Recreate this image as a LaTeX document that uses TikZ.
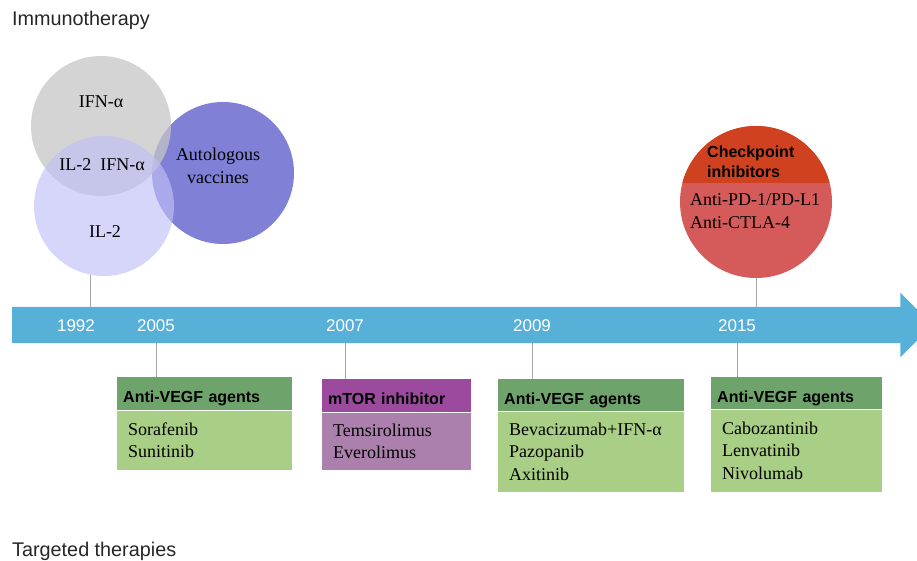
\documentclass[tikz,border=0pt]{standalone}
\usepackage{fontspec}
\setmainfont{Liberation Serif}
\setsansfont{Liberation Sans}
\usetikzlibrary{positioning}
\definecolor{barblue}{HTML}{56B0D8}
\definecolor{ifngray}{RGB}{197,197,197}
\definecolor{illav}{RGB}{192,192,247}
\definecolor{vacpurple}{HTML}{7F80D6}
\definecolor{ckptdark}{HTML}{D0421F}
\definecolor{ckptlight}{HTML}{D55B5B}
\definecolor{vegfdark}{HTML}{6FA36C}
\definecolor{vegflight}{HTML}{A8CF85}
\definecolor{mtordark}{HTML}{9C4A9E}
\definecolor{mtorlight}{HTML}{AC80AC}
\definecolor{tickgray}{HTML}{A6A6A6}
\definecolor{titlegray}{HTML}{262626}

\begin{document}
\begin{tikzpicture}[
  x=1pt, y=-1pt,
  bubble/.style={circle, inner sep=0pt, minimum size=#1},
  txt/.style={font=\fontsize{18}{23}\selectfont, align=center, inner sep=0pt},
  year/.style={font=\sffamily\fontsize{17}{20}\selectfont, text=white, inner sep=0pt},
  side/.style={font=\sffamily\fontsize{19.8}{22}\selectfont, text=titlegray,
               anchor=west, inner sep=0pt},
  hdr/.style={font=\sffamily\bfseries\fontsize{16}{20}\selectfont, align=left,
              inner xsep=6pt, inner ysep=0pt, text height=18pt, text depth=0pt,
              anchor=north west},
  body/.style={font=\fontsize{18}{22.5}\selectfont, align=left,
               inner xsep=11pt, inner ysep=0pt, below=0pt of #1},
  tick/.style={draw=tickgray, line width=1pt}
]
\useasboundingbox (0,0) rectangle (917,561);

\node[side] (immuno) at (12,20.5) {Immunotherapy};
\node[side] (target) at (12,551.5) {Targeted therapies};

% timeline
\node[minimum width=888pt, minimum height=36pt, inner sep=0pt, anchor=west] (bar) at (12,325) {};
\fill[barblue] (bar.north west) -- (bar.north east) -- ([yshift=14pt]bar.north east)
  -- ([xshift=32pt]bar.east) -- ([yshift=-14pt]bar.south east) -- (bar.south east)
  -- (bar.south west) -- cycle;
\node[year] (y1992) at (76,326) {1992};
\node[year] (y2005) at (156,326) {2005};
\node[year] (y2007) at (345,326) {2007};
\node[year] (y2009) at (532,326) {2009};
\node[year] (y2015) at (737,326) {2015};

% immunotherapy bubbles
\node[bubble=142pt, fill=vacpurple] (vac) at (223,173) {};
\node[bubble=140pt, fill=ifngray, fill opacity=0.75] (ifn) at (101,126) {};
\node[bubble=140pt, fill=illav, fill opacity=0.65] (il2) at (104,206) {};
\node[txt] (ifntxt) at (101,102) {IFN-α};
\node[txt] (bothtxt) at (102,165) {IL-2\enspace IFN-α};
\node[txt] (il2txt) at (105,232) {IL-2};
\node[txt] (vactxt) at (218,166) {Autologous\\vaccines};

\node[bubble=152pt, fill=ckptlight,
  path picture={\fill[ckptdark] (path picture bounding box.north west)
    rectangle ([yshift=19pt]path picture bounding box.east);}] (ckpt) at (756,202) {};
\node[font=\sffamily\bfseries\fontsize{16}{20}\selectfont, align=left, anchor=west,
  inner sep=0pt] (ckpttitle) at (707,162) {Checkpoint\\inhibitors};
\node[txt, anchor=west, align=left] (ckpttxt) at (690,211.5) {Anti-PD-1/PD-L1\\Anti-CTLA-4};

\draw[tick] (il2.259) -- (il2.259 |- bar.north);
\draw[tick] (ckpt.south) -- (ckpt.south |- bar.north);

% targeted therapies
\node[hdr, fill=vegfdark, text width=163pt, minimum height=33pt] (vegfA) at (117,377) {Anti-VEGF agents};
\node[body=vegfA, fill=vegflight, text width=153pt, minimum height=59pt] (vegfAbody)
  {Sorafenib\\Sunitinib};
\node[hdr, fill=mtordark, text width=137pt, minimum height=33pt] (mtor) at (322,379) {mTOR inhibitor};
\node[body=mtor, fill=mtorlight, text width=127pt, minimum height=57pt] (mtorbody)
  {Temsirolimus\\Everolimus};
\node[hdr, fill=vegfdark, text width=174pt, minimum height=32pt] (vegfB) at (498,379) {Anti-VEGF agents};
\node[body=vegfB, fill=vegflight, text width=164pt, minimum height=80pt] (vegfBbody)
  {Bevacizumab+IFN-α\\Pazopanib\\Axitinib};
\node[hdr, fill=vegfdark, text width=159pt, minimum height=32pt] (vegfC) at (711,377) {Anti-VEGF agents};
\node[body=vegfC, fill=vegflight, text width=149pt, minimum height=82pt] (vegfCbody)
  {Cabozantinib\\Lenvatinib\\Nivolumab};

\draw[tick] (y2005 |- bar.south) -- (y2005 |- vegfA.north);
\draw[tick] (y2007 |- bar.south) -- (y2007 |- mtor.north);
\draw[tick] (y2009 |- bar.south) -- (y2009 |- vegfB.north);
\draw[tick] (y2015 |- bar.south) -- (y2015 |- vegfC.north);
\end{tikzpicture}
\end{document}
